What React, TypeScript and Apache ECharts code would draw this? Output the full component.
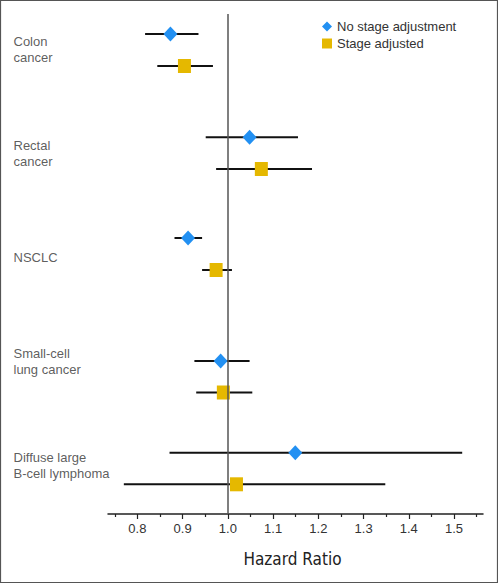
import React, { useEffect, useRef } from "react";
import * as echarts from "echarts";

const categories = [
  "Colon\ncancer",
  "Rectal\ncancer",
  "NSCLC",
  "Small-cell\nlung cancer",
  "Diffuse large\nB-cell lymphoma",
];

const seriesNames = ["No stage adjustment", "Stage adjusted"];

// Hazard ratios and 95% CI, no stage adjustment
const hrNoStage = [0.873, 1.048, 0.912, 0.984, 1.149];
const loNoStage = [0.817, 0.951, 0.882, 0.926, 0.871];
const hiNoStage = [0.935, 1.155, 0.943, 1.048, 1.518];

// Hazard ratios and 95% CI, stage adjusted
const hrStage = [0.904, 1.074, 0.974, 0.99, 1.019];
const loStage = [0.844, 0.974, 0.943, 0.93, 0.77];
const hiStage = [0.967, 1.186, 1.009, 1.054, 1.348];

// vertical row positions (row units on hidden axis)
const rowNoStage = [20, 123.3, 224, 347, 438.7];
const rowStage = [52, 155, 256, 378.5, 470.3];
const rowLabel = [36, 140, 244, 348, 452];

const majorTicks = [0.8, 0.9, 1.0, 1.1, 1.2, 1.3, 1.4, 1.5];
const minorTicks = [0.75, 0.85, 0.95, 1.05, 1.15, 1.25, 1.35, 1.45, 1.55];
const referenceHR = 1.0;

const X_MIN = 0.735;
const X_MAX = 1.564;

const BLUE = "#2290F2";
const YELLOW = "#E5B800";
const FONT = '"Liberation Sans", Arial, sans-serif';
const NARROW = '"Liberation Sans Narrow", "DejaVu Sans Condensed", sans-serif';

export default function App() {
  const ref = useRef<HTMLDivElement>(null);

  useEffect(() => {
    document.body.style.margin = "0";
    if (!ref.current) return;
    const chart = echarts.init(ref.current, null, { renderer: "svg" });

    const errNo = hrNoStage.map((_, i) => [loNoStage[i], hiNoStage[i], rowNoStage[i]]);
    const errSt = hrStage.map((_, i) => [loStage[i], hiStage[i], rowStage[i]]);

    const renderErr = (params: any, api: any) => {
      const a = api.coord([api.value(0), api.value(2)]);
      const b = api.coord([api.value(1), api.value(2)]);
      return {
        type: "line",
        shape: { x1: a[0], y1: a[1], x2: b[0], y2: b[1] },
        style: { stroke: "#111", lineWidth: 2 },
      };
    };

    chart.setOption({
      animation: false,
      backgroundColor: "#fff",
      textStyle: { fontFamily: FONT },
      grid: { left: 108, right: 15, top: 14, bottom: 70, containLabel: false },
      legend: {
        orient: "vertical",
        left: 317,
        top: 15,
        itemWidth: 10,
        itemHeight: 10,
        itemGap: 4,
        textStyle: { fontSize: 13, color: "#333", fontFamily: FONT },
        data: [
          { name: seriesNames[0], icon: "diamond" },
          { name: seriesNames[1], icon: "rect" },
        ],
      },
      xAxis: [
        {
          type: "value",
          min: X_MIN,
          max: X_MAX,
          position: "bottom",
          name: "Hazard Ratio",
          nameLocation: "middle",
          nameGap: 36,
          nameTextStyle: { fontSize: 17, color: "#222", fontFamily: NARROW, padding: [0, 6, 0, 0] },
          axisLine: { show: true, onZero: false, lineStyle: { color: "#222", width: 1.5 } },
          axisTick: {
            show: true,
            customValues: majorTicks,
            length: 5,
            lineStyle: { color: "#222", width: 1.2 },
          },
          axisLabel: {
            customValues: majorTicks,
            formatter: (v: number) => v.toFixed(1),
            fontSize: 13,
            color: "#333",
            margin: 8,
            fontFamily: FONT,
          },
          splitLine: { show: false },
        },
        {
          type: "value",
          min: X_MIN,
          max: X_MAX,
          position: "bottom",
          axisLine: { show: false, onZero: false },
          axisTick: {
            show: true,
            customValues: minorTicks,
            length: 3,
            lineStyle: { color: "#222", width: 1.2 },
          },
          axisLabel: { show: false },
          splitLine: { show: false },
        },
      ],
      yAxis: {
        type: "value",
        min: 0,
        max: 500,
        inverse: true,
        show: false,
      },
      graphic: [
        {
          type: "rect",
          shape: { x: 0.5, y: 0.5, width: 497, height: 582 },
          style: { fill: "none", stroke: "#555", lineWidth: 1.2 },
          silent: true,
        },
      ],
      series: [
        {
          type: "custom",
          name: "err-no",
          renderItem: renderErr,
          data: errNo,
          encode: { x: [0, 1], y: 2 },
          z: 1,
          silent: true,
          markLine: {
            silent: true,
            symbol: "none",
            label: { show: false },
            lineStyle: { color: "#555", width: 1.5, type: "solid" },
            data: [{ xAxis: referenceHR }],
          },
        },
        {
          type: "custom",
          name: "err-st",
          renderItem: renderErr,
          data: errSt,
          encode: { x: [0, 1], y: 2 },
          z: 1,
          silent: true,
        },
        {
          type: "scatter",
          name: seriesNames[0],
          symbol: "diamond",
          symbolSize: [14, 15],
          itemStyle: { color: BLUE, opacity: 1 },
          data: hrNoStage.map((v, i) => [v, rowNoStage[i]]),
          z: 3,
        },
        {
          type: "scatter",
          name: seriesNames[1],
          symbol: "rect",
          symbolSize: [13, 14],
          itemStyle: { color: YELLOW, opacity: 1 },
          data: hrStage.map((v, i) => [v, rowStage[i]]),
          z: 3,
        },
        {
          type: "scatter",
          name: "labels",
          symbolSize: 1,
          clip: false,
          itemStyle: { color: "rgba(0,0,0,0)" },
          silent: true,
          data: categories.map((c, i) => ({ value: [X_MIN, rowLabel[i]], name: c })),
          label: {
            show: true,
            position: [-94, 0],
            align: "left",
            verticalAlign: "middle",
            formatter: (p: any) => p.name,
            fontSize: 13,
            lineHeight: 16,
            color: "#333",
            fontFamily: FONT,
          },
        },
      ],
    });

    return () => chart.dispose();
  }, []);

  return <div ref={ref} style={{ width: 498, height: 584 }} />;
}
